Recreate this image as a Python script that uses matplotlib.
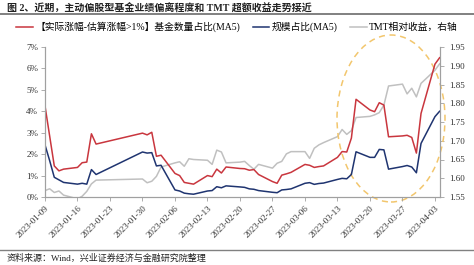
import matplotlib
matplotlib.use('Agg')
import matplotlib.pyplot as plt
import matplotlib.dates as mdates
from matplotlib.patches import Ellipse
from matplotlib.lines import Line2D
from matplotlib.ticker import FuncFormatter, MultipleLocator
import pandas as pd

# --- 数据 ---
dates = pd.to_datetime([
    '2023-01-09', '2023-01-10', '2023-01-11', '2023-01-12', '2023-01-13',
    '2023-01-16', '2023-01-17', '2023-01-18', '2023-01-19', '2023-01-20',
    '2023-01-30', '2023-01-31', '2023-02-01', '2023-02-02', '2023-02-03',
    '2023-02-06', '2023-02-07', '2023-02-08', '2023-02-09', '2023-02-10',
    '2023-02-13', '2023-02-14', '2023-02-15', '2023-02-16', '2023-02-17',
    '2023-02-20', '2023-02-21', '2023-02-22', '2023-02-23', '2023-02-24',
    '2023-02-27', '2023-02-28', '2023-03-01', '2023-03-02', '2023-03-03',
    '2023-03-06', '2023-03-07', '2023-03-08', '2023-03-09', '2023-03-10',
    '2023-03-13', '2023-03-14', '2023-03-15', '2023-03-16', '2023-03-17',
    '2023-03-20', '2023-03-21', '2023-03-22', '2023-03-23', '2023-03-24',
    '2023-03-27', '2023-03-28', '2023-03-29', '2023-03-30', '2023-03-31',
    '2023-04-03', '2023-04-04',
])

# 【实际涨幅-估算涨幅>1%】基金数量占比(MA5), %
count_ratio = [
    4.25, 2.85, 1.45, 1.22, 1.30, 1.38, 1.60, 1.63, 2.95, 2.47,
    2.98, 2.90, 3.02, 1.90, 1.95,
    1.10, 1.00, 0.68, 0.64, 0.60,
    1.00, 0.95, 1.30, 1.12, 1.40,
    1.33, 1.32, 1.25, 1.28, 1.05,
    0.72, 0.64, 1.02, 1.08, 1.15,
    1.52, 1.48, 1.38, 1.42, 1.45,
    1.85, 2.12, 2.10, 2.75, 4.56,
    4.06, 3.98, 4.40, 4.29, 2.81,
    2.85, 2.88, 2.78, 2.05, 3.90,
    6.20, 6.50,
]

# 规模占比(MA5), %
scale_ratio = [
    2.43, 1.70, 0.92, 0.80, 0.68, 0.60, 0.64, 0.60, 1.28, 1.05,
    2.10, 2.05, 2.07, 1.45, 1.48,
    0.33, 0.28, 0.18, 0.15, 0.13,
    0.28, 0.30, 0.48, 0.43, 0.52,
    0.47, 0.45, 0.38, 0.36, 0.30,
    0.22, 0.20, 0.33, 0.35, 0.38,
    0.64, 0.67, 0.59, 0.63, 0.65,
    0.82, 0.87, 0.85, 1.05, 2.11,
    1.85, 1.85, 2.22, 2.20, 1.30,
    1.42, 1.47, 1.40, 1.13, 2.50,
    3.75, 4.00,
]

# TMT相对收益（右轴）
tmt_rel = [
    1.567, 1.572, 1.562, 1.566, 1.555, 1.545, 1.552, 1.565, 1.585, 1.595,
    1.598, 1.588, 1.592, 1.605, 1.630,
    1.641, 1.644, 1.632, 1.652, 1.650,
    1.648, 1.637, 1.675, 1.670, 1.641,
    1.643, 1.645, 1.634, 1.624, 1.637,
    1.627, 1.640, 1.645, 1.665, 1.671,
    1.671, 1.653, 1.680, 1.689, 1.695,
    1.711, 1.730, 1.717, 1.727, 1.762,
    1.765, 1.769, 1.775, 1.795, 1.846,
    1.851, 1.825, 1.840, 1.817, 1.853,
    1.888, 1.905,
]

title = '图 2、近期，主动偏股型基金业绩偏离程度和 TMT 超额收益走势接近'
source = '资料来源：Wind，兴业证券经济与金融研究院整理'
labels = ['【实际涨幅-估算涨幅>1%】基金数量占比(MA5)', '规模占比(MA5)', 'TMT相对收益，右轴']

RED = '#c9363e'
BLUE = '#1f3470'
GREY = '#c0c0c0'
AXC = '#a0a0a0'
FONT = ['Liberation Serif', 'Noto Sans CJK SC', 'DejaVu Sans']

plt.rcParams['font.family'] = FONT

fig = plt.figure(figsize=(4.74, 2.65), dpi=100)
ax = fig.add_axes([45 / 474, 1 - 197 / 265, (439.6 - 45) / 474, 150 / 265])
ax2 = ax.twinx()

ax2.plot(dates, tmt_rel, color=GREY, lw=1.1)
ax.plot(dates, count_ratio, color=RED, lw=1.1)
ax.plot(dates, scale_ratio, color=BLUE, lw=1.1)
ax.set_zorder(ax2.get_zorder() + 1)
ax.patch.set_visible(False)

ax.set_ylim(0, 7)
ax.yaxis.set_major_locator(MultipleLocator(1))
ax.yaxis.set_major_formatter(FuncFormatter(lambda v, p: f'{v:.0f}%'))
ax2.set_ylim(1.55, 1.95)
ax2.yaxis.set_major_locator(MultipleLocator(0.05))
ax2.yaxis.set_major_formatter(FuncFormatter(lambda v, p: f'{v:.2f}'))

ax.set_xlim(dates[0], dates[-1])
ax.xaxis.set_major_locator(mdates.DayLocator(bymonthday=None, interval=7))
ticks = pd.date_range(dates[0], dates[-1], freq='7D')
ax.set_xticks(ticks)
ax.xaxis.set_major_formatter(mdates.DateFormatter('%Y-%m-%d'))
for lab in ax.get_xticklabels():
    lab.set_rotation(45)
    lab.set_ha('right')
    lab.set_rotation_mode('anchor')

for a in (ax, ax2):
    a.spines['top'].set_visible(False)
    for s in ('left', 'right', 'bottom'):
        a.spines[s].set_color(AXC)
        a.spines[s].set_linewidth(0.8)
    a.tick_params(labelsize=6.5, colors=AXC, length=3, width=0.6, labelcolor='#333333')
ax.tick_params(axis='x', pad=2)
ax.tick_params(axis='y', pad=2)
ax2.tick_params(axis='y', pad=4)

# 图例
handles = [Line2D([], [], color=RED, lw=1.1),
           Line2D([], [], color=BLUE, lw=1.1),
           Line2D([], [], color=GREY, lw=1.1)]
fig.legend(handles, labels, loc='center', bbox_to_anchor=(0.5, 1 - 27 / 265),
           ncol=3, frameon=False, fontsize=7, handlelength=1.7,
           handletextpad=0.25, columnspacing=1.3)

# 标题与来源
fig.text(7 / 474, 1 - 7.5 / 265, title, fontsize=7.2, fontweight='bold',
         ha='left', va='center', color='#222222')
fig.add_artist(Line2D([0, 1], [1 - 13.5 / 265] * 2, color='#808080', lw=1.4))
fig.add_artist(Line2D([0, 1], [1 - 249.5 / 265] * 2, color='#808080', lw=1.0))
fig.text(7 / 474, 1 - 258 / 265, source, fontsize=6.5, ha='left', va='center',
         color='#222222')

# 虚线椭圆
ell = Ellipse((391 / 474, 1 - 118.5 / 265), 108 / 474, 167 / 265,
              transform=fig.transFigure, fill=False, ls=(0, (4, 3)),
              ec='#f2c66d', lw=1.1)
fig.add_artist(ell)

fig.savefig('out.png', dpi=100)
